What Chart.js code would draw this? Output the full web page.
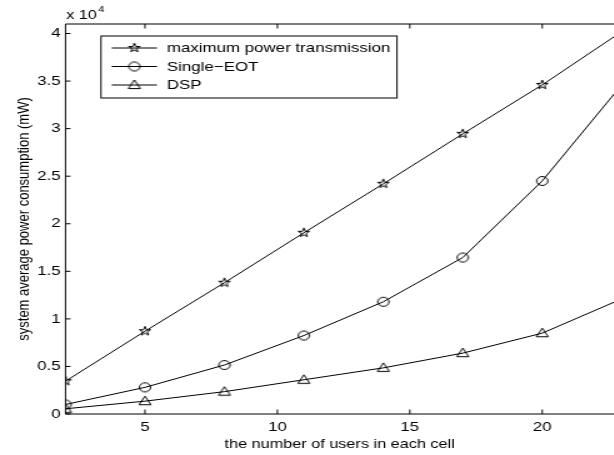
<!DOCTYPE html>
<html>
<head>
<meta charset="utf-8">
<script src="https://cdn.jsdelivr.net/npm/chart.js@4/dist/chart.umd.min.js"></script>
<style>
    html, body { margin: 0; padding: 0; background: #fff; overflow: hidden; }
    /* the reference figure is stretched sideways, so the chart is too */
    #wrap { width: 491.2px; height: 455px; transform: scaleX(1.25); transform-origin: 0 0; }
</style>
</head>
<body>
<div id="wrap"><canvas id="powerChart" width="491" height="455"></canvas></div>
<script>
const usersPerCell = [2, 5, 8, 11, 14, 17, 20, 23];
const maxPowerTx = [3450, 8700, 13800, 19050, 24200, 29450, 34600, 40200];
const singleEot = [1000, 2800, 5150, 8250, 11800, 16450, 24500, 34600];
const dsp = [550, 1350, 2350, 3600, 4850, 6400, 8500, 12100];

const xTicks = [5, 10, 15, 20];
const yTicks = [0, 5000, 10000, 15000, 20000, 25000, 30000, 35000, 40000];

const seriesNames = ['maximum power transmission', 'Single\u2212EOT', 'DSP'];
const xTitle = 'the number of users in each cell';
const yTitle = 'system average power consumption (mW)';

const family = "'Liberation Sans', Arial, Helvetica, sans-serif";

function makeMarker(kind) {
    const c = document.createElement('canvas');
    c.width = 14;
    c.height = 14;
    const g = c.getContext('2d');
    g.strokeStyle = '#000';
    g.lineWidth = 1;
    g.translate(7, 7);
    g.beginPath();
    if (kind === 'star') {
        for (let i = 0; i < 10; i++) {
            const r = i % 2 ? 1.9 : 4.8;
            const a = -Math.PI / 2 + i * Math.PI / 5;
            g.lineTo(r * Math.cos(a), r * Math.sin(a));
        }
        g.closePath();
    } else if (kind === 'circle') {
        g.arc(0, 0, 4.5, 0, Math.PI * 2);
    } else {
        g.moveTo(0, -5);
        g.lineTo(4.8, 3.6);
        g.lineTo(-4.8, 3.6);
        g.closePath();
    }
    g.stroke();
    return c;
}

const markers = [makeMarker('star'), makeMarker('circle'), makeMarker('triangle')];

function series(label, values, marker) {
    return {
        label: label,
        data: usersPerCell.map((x, i) => ({ x: x, y: values[i] })),
        borderColor: '#000',
        borderWidth: 1,
        backgroundColor: 'transparent',
        pointStyle: marker,
        pointRadius: 5,
        tension: 0
    };
}

// box, inward ticks, exponent and legend drawn the matlab way
// (right side of the axes is cut off in the picture)
const matlabFrame = {
    id: 'matlabFrame',
    afterDatasetsDraw(chart) {
        const ctx = chart.ctx;
        const a = chart.chartArea;
        const x = chart.scales.x;
        const y = chart.scales.y;
        ctx.save();
        ctx.strokeStyle = '#000';
        ctx.lineWidth = 1;
        ctx.beginPath();
        ctx.moveTo(a.right + 2, a.top);
        ctx.lineTo(a.left, a.top);
        ctx.lineTo(a.left, a.bottom);
        ctx.lineTo(a.right + 2, a.bottom);
        xTicks.forEach(v => {
            const px = x.getPixelForValue(v);
            ctx.moveTo(px, a.bottom);
            ctx.lineTo(px, a.bottom - 4.5);
            ctx.moveTo(px, a.top);
            ctx.lineTo(px, a.top + 4.5);
        });
        yTicks.forEach(v => {
            const py = y.getPixelForValue(v);
            ctx.moveTo(a.left, py);
            ctx.lineTo(a.left + 4, py);
        });
        ctx.stroke();

        ctx.fillStyle = '#000';
        ctx.textBaseline = 'alphabetic';
        ctx.textAlign = 'left';
        ctx.font = '13px ' + family;
        ctx.fillText('x 10', a.left + 0.5, 18.5);
        const w = ctx.measureText('x 10').width;
        ctx.font = '9px ' + family;
        ctx.fillText('4', a.left + 1.5 + w, 11.5);

        // legend
        const bx = 80.8, by = 36, bw = 236.8, bh = 62;
        ctx.fillStyle = '#fff';
        ctx.fillRect(bx, by, bw, bh);
        ctx.strokeRect(bx, by, bw, bh);
        const rows = [48, 66.5, 85];
        ctx.font = '13.5px ' + family;
        ctx.textBaseline = 'middle';
        chart.data.datasets.forEach((ds, i) => {
            const ry = rows[i];
            ctx.beginPath();
            ctx.moveTo(89.4, ry);
            ctx.lineTo(125.6, ry);
            ctx.stroke();
            ctx.drawImage(ds.pointStyle, 107.5 - 7, ry - 7);
            ctx.fillStyle = '#000';
            ctx.fillText(ds.label, 133.6, ry + 0.5);
        });
        ctx.restore();
    }
};

new Chart(document.getElementById('powerChart').getContext('2d'), {
    type: 'line',
    data: {
        datasets: [
            series(seriesNames[0], maxPowerTx, markers[0]),
            series(seriesNames[1], singleEot, markers[1]),
            series(seriesNames[2], dsp, markers[2])
        ]
    },
    options: {
        responsive: false,
        animation: false,
        devicePixelRatio: 1,
        layout: { autoPadding: false, padding: { top: 24, right: 0, left: 0, bottom: 0 } },
        plugins: {
            legend: { display: false },
            tooltip: { enabled: false }
        },
        scales: {
            x: {
                type: 'linear',
                min: 2,
                max: 22.7,
                afterBuildTicks: s => { s.ticks = xTicks.map(v => ({ value: v })); },
                afterFit: s => { s.height = 41; },
                grid: { display: false, drawTicks: false, tickLength: 0 },
                border: { display: false },
                ticks: {
                    color: '#000',
                    font: { size: 13.5, family: family },
                    padding: 5.5,
                    maxRotation: 0,
                    autoSkip: false
                },
                title: {
                    display: true,
                    text: xTitle,
                    color: '#000',
                    font: { size: 13, family: family },
                    padding: { top: 0, bottom: 3 }
                }
            },
            y: {
                min: 0,
                max: 41000,
                afterBuildTicks: s => { s.ticks = yTicks.map(v => ({ value: v })); },
                afterFit: s => { s.width = 52.4; },
                grid: { display: false, drawTicks: false, tickLength: 0 },
                border: { display: false },
                ticks: {
                    color: '#000',
                    font: { size: 13.5, family: family },
                    padding: 4,
                    callback: v => String(v / 10000)
                },
                title: {
                    display: true,
                    text: yTitle,
                    color: '#000',
                    font: { size: 13, family: family },
                    padding: { top: 12, bottom: 0 }
                }
            }
        }
    },
    plugins: [matlabFrame]
});
</script>
</body>
</html>
